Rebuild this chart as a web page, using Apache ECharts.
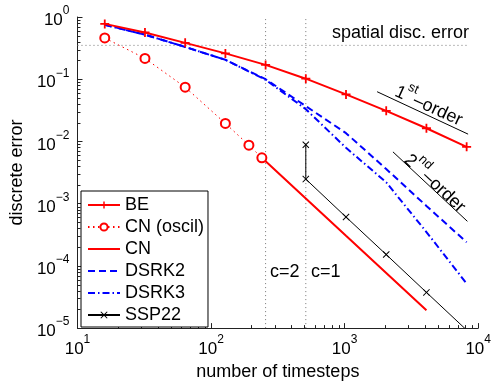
<!DOCTYPE html>
<html>
<head>
<meta charset="utf-8">
<script src="https://cdn.jsdelivr.net/npm/echarts@6/dist/echarts.min.js"></script>
<style>html,body{margin:0;padding:0;background:#fff;}#c{width:494px;height:386px;}</style>
</head>
<body>
<div id="c"></div>
<script>
// ---- data ----
const steps = [16, 32, 64, 128, 256, 512, 1024, 2048, 4096, 8192];
const beErr = [0.775, 0.565, 0.384, 0.26, 0.17, 0.102, 0.057, 0.031, 0.0163, 0.0082];
const cnOscSteps = [16, 32, 64, 128, 192, 240];
const cnOscErr = [0.46, 0.216, 0.0744, 0.0195, 0.0087, 0.00546];
const cnSteps = [240, 512, 1024, 2048, 4096];
const cnErr = [0.00546, 0.00121, 0.000304, 0.0000766, 0.0000193];
const dsrk2Err = [0.75, 0.52, 0.33, 0.205, 0.1, 0.037, 0.0136, 0.0036, 0.00092, 0.00024];
const dsrk3Err = [0.75, 0.52, 0.33, 0.205, 0.098, 0.033, 0.0079, 0.0022, 0.00035, 0.000052];
const sspSteps = [512, 512, 1024, 2048, 4096, 8192];
const sspErr = [0.00887, 0.00248, 0.00061, 0.000152, 0.0000375, 0.0000093];
const spatialErr = 0.35;
const spatialSteps = [10, 8192];
const cLines = [256, 512];          // c=2, c=1
const order1Steps = [1750, 8400];
const order1Err = [0.063, 0.0131];
const order2Steps = [2300, 8300];
const order2Err = [0.0068, 0.00052];
const xRange = [10, 10000];
const yRange = [1e-5, 1];

const FONT = 'Liberation Sans, Arial, Helvetica, sans-serif';
const zip = (xs, ys) => xs.map((x, i) => [x, ys[i]]);

// minor tick values (2..9 per decade)
const minorX = [], minorY = [];
for (let d = 1; d <= 3; d++) for (let k = 2; k <= 9; k++) minorX.push(k * Math.pow(10, d));
for (let d = -5; d <= -1; d++) for (let k = 2; k <= 9; k++) minorY.push(k * Math.pow(10, d));

const PLUS = 'path://M4,0H6V4H10V6H6V10H4V6H0V4H4Z';
const CROSS = 'path://M0,1L1,0L5,4L9,0L10,1L6,5L10,9L9,10L5,6L1,10L0,9L4,5Z';

function powLabel(v) {
  const e = Math.round(Math.log10(v));
  const s = e < 0 ? '\u2212' + (-e) : String(e);
  return '{b|10}{sup|' + s + '}';
}
const labelRich = {
  b: { fontSize: 17, fontFamily: FONT, color: '#000', lineHeight: 24, verticalAlign: 'bottom' },
  sup: { fontSize: 12, fontFamily: FONT, color: '#000', lineHeight: 14, verticalAlign: 'top' }
};
const hideSym = { color: 'rgba(0,0,0,0)', borderColor: 'rgba(0,0,0,0)', borderWidth: 0 };

const chart = echarts.init(document.getElementById('c'));
const gray = '#777';
const option = {
  animation: false,
  backgroundColor: '#fff',
  textStyle: { fontFamily: FONT },
  grid: { left: 73, right: 13, top: 17, bottom: 53 },
  xAxis: {
    type: 'log', logBase: 10, min: xRange[0], max: xRange[1], splitNumber: 3,
    name: 'number of timesteps', nameLocation: 'middle', nameGap: 31,
    nameTextStyle: { fontSize: 18, color: '#000', fontFamily: FONT },
    axisLine: { show: true, lineStyle: { color: '#222', width: 1 } },
    axisTick: { show: true, inside: true, length: 5, lineStyle: { color: '#222' } },
    axisLabel: { margin: 6, formatter: powLabel, rich: labelRich },
    splitLine: { show: false }
  },
  yAxis: {
    type: 'log', logBase: 10, min: yRange[0], max: yRange[1], splitNumber: 5,
    name: 'discrete error', nameLocation: 'middle', nameGap: 45, nameRotate: 90,
    nameTextStyle: { fontSize: 18, color: '#000', fontFamily: FONT },
    axisLine: { show: true, lineStyle: { color: '#222', width: 1 } },
    axisTick: { show: true, inside: true, length: 5, lineStyle: { color: '#222' } },
    axisLabel: { margin: 8, formatter: powLabel, rich: labelRich },
    splitLine: { show: false }
  },
  legend: {
    orient: 'vertical', left: 81, top: 191,
    data: [
      { name: 'BE' },
      { name: 'CN (oscil)' },
      { name: 'CN', itemStyle: hideSym },
      { name: 'DSRK2', itemStyle: hideSym },
      { name: 'DSRK3', itemStyle: hideSym },
      { name: 'SSP22' }
    ],
    itemWidth: 32, itemHeight: 9, itemGap: 4,
    padding: [5, 4, 3, 6],
    borderColor: '#000', borderWidth: 1, backgroundColor: '#fff',
    textStyle: { fontSize: 18, color: '#000', fontFamily: FONT }
  },
  graphic: [
    { type: 'text', x: 332, y: 33, style: { text: 'spatial disc. error', fontSize: 18, fontFamily: FONT, fill: '#000', verticalAlign: 'middle' } },
    { type: 'text', x: 270, y: 272, style: { text: 'c=2', fontSize: 18, fontFamily: FONT, fill: '#000', verticalAlign: 'middle' } },
    { type: 'text', x: 311, y: 272, style: { text: 'c=1', fontSize: 18, fontFamily: FONT, fill: '#000', verticalAlign: 'middle' } },
    { type: 'text', x: 430, y: 103, rotation: -24.8 * Math.PI / 180,
      style: { text: '{b|1}{s|st}{b|\u2013order}', align: 'center', verticalAlign: 'middle',
        rich: { b: { fontSize: 18, fontFamily: FONT, fill: '#000', lineHeight: 25, verticalAlign: 'bottom' },
                s: { fontSize: 13, fontFamily: FONT, fill: '#000', lineHeight: 14, verticalAlign: 'top' } } } },
    { type: 'text', x: 437, y: 181, rotation: -42.9 * Math.PI / 180,
      style: { text: '{b|2}{s|nd}{b|\u2013order}', align: 'center', verticalAlign: 'middle',
        rich: { b: { fontSize: 18, fontFamily: FONT, fill: '#000', lineHeight: 25, verticalAlign: 'bottom' },
                s: { fontSize: 13, fontFamily: FONT, fill: '#000', lineHeight: 14, verticalAlign: 'top' } } } }
  ],
  series: [
    { name: 'spatial', type: 'line', data: zip(spatialSteps, [spatialErr, spatialErr]), symbol: 'none', silent: true,
      lineStyle: { color: gray, width: 1, type: [1, 3] }, z: 1 },
    { name: 'c2', type: 'line', data: [[cLines[0], yRange[0]], [cLines[0], yRange[1]]], symbol: 'none', silent: true,
      lineStyle: { color: gray, width: 1, type: [1, 3] }, z: 1 },
    { name: 'c1', type: 'line', data: [[cLines[1], yRange[0]], [cLines[1], yRange[1]]], symbol: 'none', silent: true,
      lineStyle: { color: gray, width: 1, type: [1, 3] }, z: 1 },
    { name: 'ord1', type: 'line', data: zip(order1Steps, order1Err), symbol: 'none', silent: true,
      lineStyle: { color: '#000', width: 1 }, z: 1 },
    { name: 'ord2', type: 'line', data: zip(order2Steps, order2Err), symbol: 'none', silent: true,
      lineStyle: { color: '#000', width: 1 }, z: 1 },
    { name: 'BE', type: 'line', data: zip(steps, beErr), symbol: PLUS, symbolSize: 9,
      itemStyle: { color: '#ff0000' }, lineStyle: { color: '#ff0000', width: 2 }, z: 5 },
    { name: 'CN (oscil)', type: 'line', data: zip(cnOscSteps, cnOscErr), symbol: 'emptyCircle', symbolSize: 9,
      itemStyle: { color: '#ff0000', borderColor: '#ff0000', borderWidth: 2 },
      lineStyle: { color: '#ff0000', width: 1, type: [1.5, 3.5] }, z: 5 },
    { name: 'CN', type: 'line', data: zip(cnSteps, cnErr), symbol: 'none',
      itemStyle: { color: '#ff0000' }, lineStyle: { color: '#ff0000', width: 2 }, z: 5 },
    { name: 'DSRK2', type: 'line', data: zip(steps, dsrk2Err), symbol: 'none',
      itemStyle: { color: '#0000ff' }, lineStyle: { color: '#0000ff', width: 2, type: [7, 4] }, z: 4 },
    { name: 'DSRK3', type: 'line', data: zip(steps, dsrk3Err), symbol: 'none',
      itemStyle: { color: '#0000ff' }, lineStyle: { color: '#0000ff', width: 2, type: [7, 3, 1.5, 3] }, z: 4 },
    { name: 'SSP22', type: 'line', data: zip(sspSteps, sspErr), symbol: CROSS, symbolSize: 7,
      itemStyle: { color: '#000' }, lineStyle: { color: '#000', width: 1 }, z: 5 },
    { name: 'minorTicks', type: 'custom', silent: true, clip: false, z: 2,
      data: minorX.map(v => [v, yRange[0], 0]).concat(minorY.map(v => [xRange[0], v, 1])),
      encode: { x: 0, y: 1 },
      renderItem: function (params, api) {
        const t = api.value(2);
        const p = api.coord([api.value(0), api.value(1)]);
        if (t === 0) {
          const x = Math.round(p[0]) + 0.5;
          return { type: 'line', shape: { x1: x, y1: p[1], x2: x, y2: p[1] - 3 }, style: { stroke: '#222', lineWidth: 1 } };
        }
        const y = Math.round(p[1]) + 0.5;
        return { type: 'line', shape: { x1: p[0], y1: y, x2: p[0] + 3, y2: y }, style: { stroke: '#222', lineWidth: 1 } };
      }
    }
  ]
};
chart.setOption(option);
</script>
</body>
</html>
